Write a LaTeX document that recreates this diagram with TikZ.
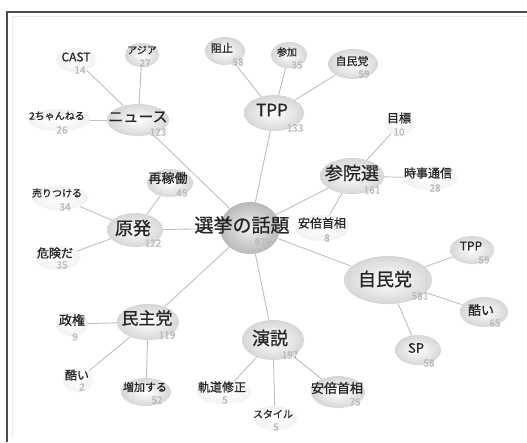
\documentclass[tikz,border=0pt]{standalone}
\usepackage{fontspec}
\setmainfont{Noto Sans CJK JP}[FakeBold=0.8]
\usetikzlibrary{shapes.geometric}
\pgfdeclarelayer{back}
\pgfdeclarelayer{bg}
\pgfsetlayers{back,bg,main}
\newcommand\fz[1]{\fontsize{#1}{#1}\selectfont}
\tikzset{
  blob/.style={ellipse, inner sep=0pt, shading=radial, inner color=white, outer color=gray!32},
  faint/.style={ellipse, inner sep=0pt, shading=radial, inner color=white, outer color=gray!10},
  core/.style={ellipse, inner sep=0pt, shading=radial, inner color=gray!12, outer color=gray!55},
  txt/.style={inner sep=0pt, text=black!85},
  cnt/.style={inner sep=0pt, text=gray!55, font=\fz{10}},
  link/.style={draw=gray!50, line width=0.9pt},
  frame/.style={draw=black!70, line width=1.4pt}
}
\begin{document}
\begin{tikzpicture}[x=1pt,y=-1pt]
\useasboundingbox (0,0) rectangle (527,442);
\begin{pgfonlayer}{back}
\fill[white] (0,0) rectangle (527,442);
\end{pgfonlayer}
\draw[frame] (7,442) -- (7,12) -- (527,12);
\draw[gray!15, line width=0.5pt] (12,438) -- (12,16) -- (527,16);

% ellipses
\node[core, minimum width=60pt, minimum height=52pt] (c) at (250,228) {};
\node[blob, minimum width=62pt, minimum height=32pt] (nw) at (138,120) {};
\node[faint, minimum width=40pt, minimum height=24pt] (cast) at (76,60) {};
\node[blob, minimum width=34pt, minimum height=24pt] (asia) at (142,55) {};
\node[faint, minimum width=62pt, minimum height=22pt] (ch2) at (59,120) {};
\node[blob, minimum width=60pt, minimum height=36pt] (tpp) at (274,113) {};
\node[blob, minimum width=40pt, minimum height=28pt] (sosh) at (225,51) {};
\node[blob, minimum width=36pt, minimum height=26pt] (sanka) at (289,55) {};
\node[blob, minimum width=50pt, minimum height=30pt] (jmt) at (353,64) {};
\node[blob, minimum width=64pt, minimum height=36pt] (sin) at (352,176) {};
\node[faint, minimum width=28pt, minimum height=24pt] (mok) at (400,124) {};
\node[faint, minimum width=54pt, minimum height=24pt] (jiji) at (430,178) {};
\node[faint, minimum width=54pt, minimum height=26pt] (abe8) at (322,228) {};
\node[blob, minimum width=56pt, minimum height=34pt] (gen) at (135,230) {};
\node[blob, minimum width=46pt, minimum height=28pt] (sai) at (170,183) {};
\node[faint, minimum width=56pt, minimum height=24pt] (uri) at (60,198) {};
\node[faint, minimum width=44pt, minimum height=24pt] (kiken) at (58,258) {};
\node[blob, minimum width=62pt, minimum height=36pt] (min) at (148,322) {};
\node[faint, minimum width=32pt, minimum height=24pt] (sei) at (72,324) {};
\node[faint, minimum width=30pt, minimum height=24pt] (hido2) at (78,380) {};
\node[blob, minimum width=50pt, minimum height=28pt] (zoka) at (146,392) {};
\node[blob, minimum width=62pt, minimum height=40pt] (en) at (273,340) {};
\node[faint, minimum width=56pt, minimum height=24pt] (kido) at (224,392) {};
\node[faint, minimum width=44pt, minimum height=24pt] (sty) at (275,418) {};
\node[blob, minimum width=54pt, minimum height=32pt] (abe75) at (338,392) {};
\node[blob, minimum width=88pt, minimum height=48pt] (jm) at (388,280) {};
\node[blob, minimum width=44pt, minimum height=28pt] (tpp2) at (472,250) {};
\node[blob, minimum width=48pt, minimum height=30pt] (hido) at (484,312) {};
\node[blob, minimum width=46pt, minimum height=30pt] (sp) at (418,350) {};

% connectors
\begin{pgfonlayer}{bg}
\draw[link] (c) -- (nw);
\draw[link] (c) -- (tpp);
\draw[link] (c) -- (sin);
\draw[link] (c) -- (gen);
\draw[link] (c) -- (min);
\draw[link] (c) -- (en);
\draw[link] (c) -- (jm);
\draw[link] (nw) -- (cast);
\draw[link] (nw) -- (asia);
\draw[link] (nw) -- (ch2);
\draw[link] (tpp) -- (sosh);
\draw[link] (tpp) -- (sanka);
\draw[link] (tpp) -- (jmt);
\draw[link] (sin) -- (mok);
\draw[link] (sin) -- (jiji);
\draw[link] (sin) -- (abe8);
\draw[link] (gen) -- (sai);
\draw[link] (gen) -- (uri);
\draw[link] (gen) -- (kiken);
\draw[link] (min) -- (sei);
\draw[link] (min) -- (hido2);
\draw[link] (min) -- (zoka);
\draw[link] (en) -- (kido);
\draw[link] (en) -- (sty);
\draw[link] (en) -- (abe75);
\draw[link] (jm) -- (tpp2);
\draw[link] (jm) -- (hido);
\draw[link] (jm) -- (sp);
\end{pgfonlayer}

% texts
\node[txt, font=\fz{19}] (c-t) at (242,225) {選挙の話題};
\node[cnt] (c-n) at (263,242) {979};
\node[txt, font=\fz{15}] (nw-t) at (138,117) {ニュース};
\node[cnt] (nw-n) at (158,132) {123};
\node[txt, font=\fz{12}] (cast-t) at (76,57) {CAST};
\node[cnt] (cast-n) at (80,70) {14};
\node[txt, font=\fz{10}] (asia-t) at (142,50) {アジア};
\node[cnt] (asia-n) at (145,63) {27};
\node[txt, font=\fz{10}] (ch2-t) at (57,116) {2ちゃんねる};
\node[cnt] (ch2-n) at (62,130) {26};
\node[txt, font=\fz{17}] (tpp-t) at (272,110) {TPP};
\node[cnt] (tpp-n) at (295,128) {133};
\node[txt, font=\fz{11}] (sosh-t) at (222,48) {阻止};
\node[cnt] (sosh-n) at (238,62) {58};
\node[txt, font=\fz{10}] (sanka-t) at (287,52) {参加};
\node[cnt] (sanka-n) at (297,65) {35};
\node[txt, font=\fz{11}] (jmt-t) at (352,61) {自民党};
\node[cnt] (jmt-n) at (364,74) {59};
\node[txt, font=\fz{18}] (sin-t) at (352,173) {参院選};
\node[cnt] (sin-n) at (372,190) {161};
\node[txt, font=\fz{12}] (mok-t) at (399,118) {目標};
\node[cnt] (mok-n) at (399,132) {10};
\node[txt, font=\fz{12}] (jiji-t) at (428,173) {時事通信};
\node[cnt] (jiji-n) at (435,188) {28};
\node[txt, font=\fz{12}] (abe8-t) at (322,223) {安倍首相};
\node[cnt] (abe8-n) at (327,238) {8};
\node[txt, font=\fz{18}] (gen-t) at (133,228) {原発};
\node[cnt] (gen-n) at (153,243) {122};
\node[txt, font=\fz{13}] (sai-t) at (168,178) {再稼働};
\node[cnt] (sai-n) at (182,193) {45};
\node[txt, font=\fz{10}] (uri-t) at (57,193) {売りつける};
\node[cnt] (uri-n) at (65,207) {34};
\node[txt, font=\fz{12}] (kiken-t) at (55,253) {危険だ};
\node[cnt] (kiken-n) at (62,265) {35};
\node[txt, font=\fz{17}] (min-t) at (147,318) {民主党};
\node[cnt] (min-n) at (167,335) {119};
\node[txt, font=\fz{13}] (sei-t) at (72,320) {政権};
\node[cnt] (sei-n) at (75,337) {9};
\node[txt, font=\fz{12}] (hido2-t) at (77,375) {酷い};
\node[cnt] (hido2-n) at (82,387) {2};
\node[txt, font=\fz{11}] (zoka-t) at (145,387) {増加する};
\node[cnt] (zoka-n) at (157,400) {52};
\node[txt, font=\fz{18}] (en-t) at (270,338) {演説};
\node[cnt] (en-n) at (290,355) {197};
\node[txt, font=\fz{12}] (kido-t) at (222,387) {軌道修正};
\node[cnt] (kido-n) at (225,400) {5};
\node[txt, font=\fz{10}] (sty-t) at (273,414) {スタイル};
\node[cnt] (sty-n) at (276,427) {5};
\node[txt, font=\fz{13}] (abe75-t) at (337,388) {安倍首相};
\node[cnt] (abe75-n) at (355,402) {75};
\node[txt, font=\fz{18}] (jm-t) at (385,279) {自民党};
\node[cnt] (jm-n) at (420,296) {581};
\node[txt, font=\fz{12}] (tpp2-t) at (471,246) {TPP};
\node[cnt] (tpp2-n) at (484,260) {59};
\node[txt, font=\fz{13}] (hido-t) at (481,310) {酷い};
\node[cnt] (hido-n) at (495,323) {65};
\node[txt, font=\fz{13}] (sp-t) at (416,348) {SP};
\node[cnt] (sp-n) at (429,363) {58};
\end{tikzpicture}
\end{document}
